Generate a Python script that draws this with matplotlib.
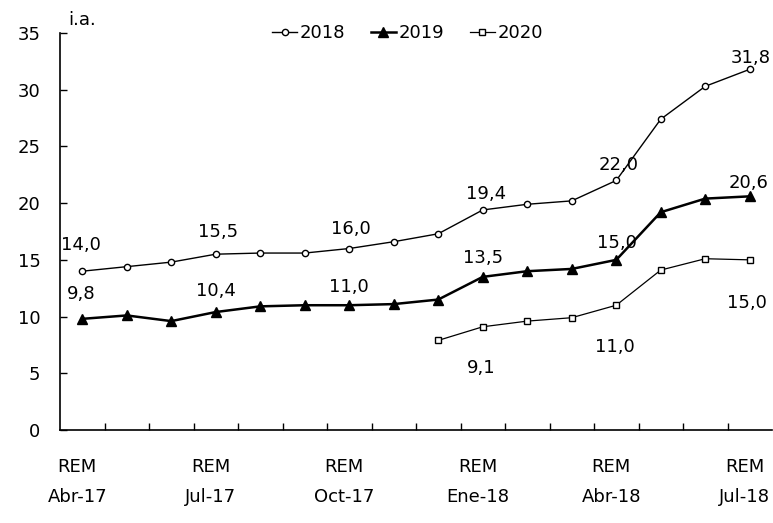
import numpy as np
import matplotlib
matplotlib.use("Agg")
import matplotlib.pyplot as plt
from matplotlib.transforms import ScaledTranslation

# Encuestas REM (meses de relevamiento)
months = ["Abr-17", "May-17", "Jun-17", "Jul-17", "Ago-17", "Sep-17", "Oct-17",
          "Nov-17", "Dic-17", "Ene-18", "Feb-18", "Mar-18", "Abr-18", "May-18",
          "Jun-18", "Jul-18"]
tick_months = ["Abr-17", "Jul-17", "Oct-17", "Ene-18", "Abr-18", "Jul-18"]

# Expectativa de inflación (% i.a.) por año calendario
s2018 = [14.0, 14.4, 14.8, 15.5, 15.6, 15.6, 16.0, 16.6, 17.3, 19.4, 19.9, 20.2,
         22.0, 27.4, 30.3, 31.8]
s2019 = [9.8, 10.1, 9.6, 10.4, 10.9, 11.0, 11.0, 11.1, 11.5, 13.5, 14.0, 14.2,
         15.0, 19.2, 20.4, 20.6]
s2020 = [np.nan] * 8 + [7.9, 9.1, 9.6, 9.9, 11.0, 14.1, 15.1, 15.0]

labels_2018 = [0, 3, 6, 9, 12, 15]
labels_2019 = [0, 3, 6, 9, 12, 15]
labels_2020 = [9, 12, 15]

# offsets (pixels) of the value labels from their markers
off_2018 = [(-1, 26), (2, 22), (2, 20), (3, 16), (2, 15), (1, 11)]
off_2019 = [(-1, 25), (0, 21), (0, 18), (0, 19), (1, 17), (-1, 13)]
off_2020 = [(-2, -41), (-1, -42), (-3, -43)]

plt.rcParams["font.family"] = ["DejaVu Sans"]
FS = 13

fig = plt.figure(figsize=(7.73, 5.23), dpi=100)
ax = fig.add_axes([60 / 773, (523 - 430) / 523, 712 / 773, (430 - 33) / 523])

x = np.arange(len(months))
ax.plot(x, s2018, color="black", lw=1.0, marker="o", ms=4.5,
        mfc="white", mec="black", mew=1.0, label="2018")
ax.plot(x, s2019, color="black", lw=1.8, marker="^", ms=7,
        mfc="black", mec="black", label="2019")
ax.plot(x, s2020, color="black", lw=0.9, marker="s", ms=5,
        mfc="white", mec="black", mew=1.0, label="2020")


def fmt(v):
    return f"{v:.1f}".replace(".", ",")


def put_labels(series, idxs, offs):
    for i, (dx, dy) in zip(idxs, offs):
        ax.annotate(fmt(series[i]), (x[i], series[i]),
                    xytext=(dx * 0.72, dy * 0.72), textcoords="offset points",
                    ha="center", va="center", fontsize=FS)


put_labels(s2018, labels_2018, off_2018)
put_labels(s2019, labels_2019, off_2019)
put_labels(s2020, labels_2020, off_2020)

ax.set_xlim(-0.5, len(months) - 0.5)
ax.set_ylim(0, 35)
ax.set_yticks(np.arange(0, 36, 5))
ax.tick_params(axis="y", direction="in", length=5, width=1, pad=14,
               labelsize=FS)

tick_pos = [months.index(m) for m in tick_months]
ax.set_xticks(tick_pos)
ax.set_xticklabels([f"REM\n{m}" for m in tick_months], linespacing=1.85)
ax.set_xticks(np.arange(0.5, len(months) - 0.5, 1), minor=True)
ax.tick_params(axis="x", which="major", length=0, pad=20, labelsize=FS)
ax.tick_params(axis="x", which="minor", direction="in", length=5, width=1)

# nudge the category labels slightly to the left of their points
shift = ScaledTranslation(-5 / 100, 0, fig.dpi_scale_trans)
for lbl in ax.get_xticklabels():
    lbl.set_transform(lbl.get_transform() + shift)

for side in ("top", "right"):
    ax.spines[side].set_visible(False)
for side in ("left", "bottom"):
    ax.spines[side].set_linewidth(1.2)

fig.text(68 / 773, 1 - 20 / 523, "i.a.", fontsize=FS, va="center", ha="left")

ax.legend(loc="center", bbox_to_anchor=(0.488, 1.0), ncol=3, frameon=False,
          fontsize=FS, handlelength=1.4, handletextpad=0.15,
          columnspacing=1.4, borderaxespad=0)

fig.savefig("out.png", dpi=100, facecolor="white")
